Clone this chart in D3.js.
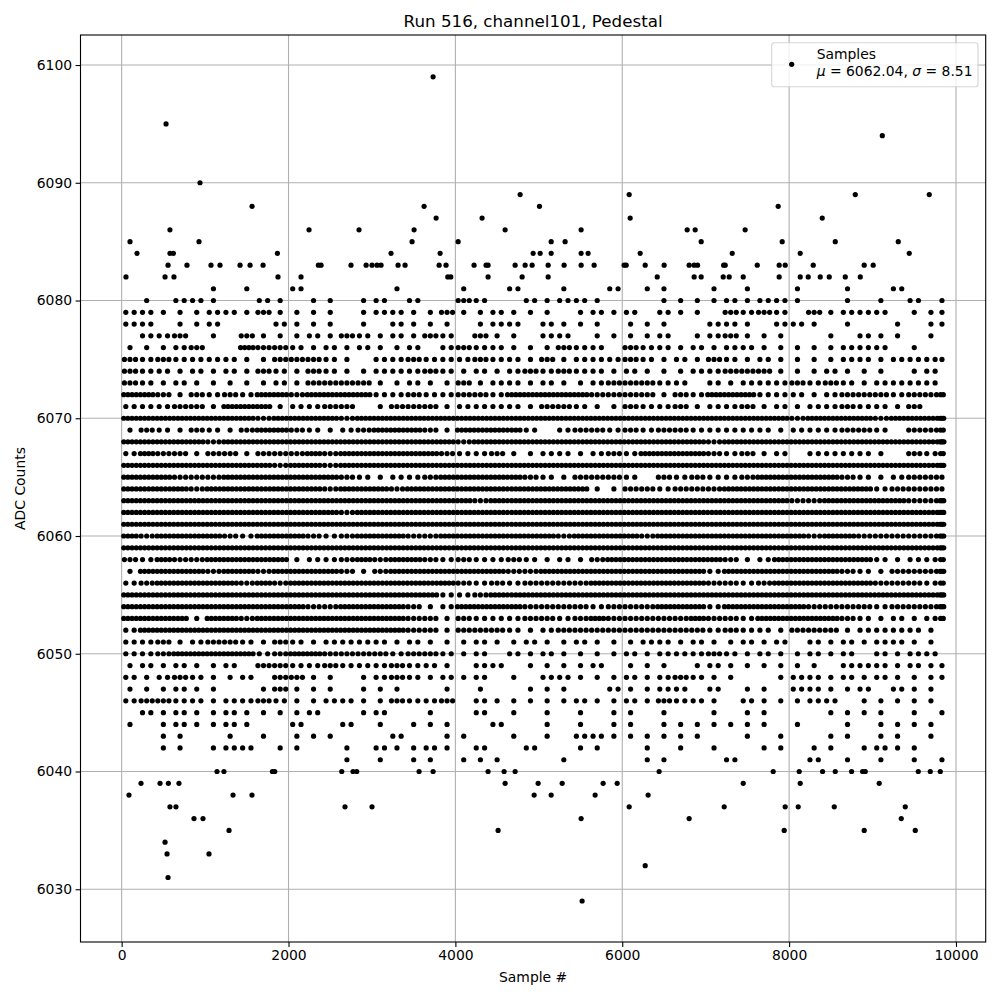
<!DOCTYPE html>
<html>
<head>
<meta charset="utf-8">
<script src="https://cdn.jsdelivr.net/npm/d3@7"></script>
<style>
  html, body { margin: 0; padding: 0; background: #fff; }
  svg { display: block; font-family: "DejaVu Sans", sans-serif; }
</style>
</head>
<body>
<svg id="chart" width="1000" height="1000"></svg>
<script>
// ---------------- DATA ----------------
const title = "Run 516, channel101, Pedestal";
const xLabel = "Sample #";
const yLabel = "ADC Counts";
const xTicks = [0, 2000, 4000, 6000, 8000, 10000];
const yTicks = [6030, 6040, 6050, 6060, 6070, 6080, 6090, 6100];
const sampleCount = 9864;          // samples 0 .. 9863
const binWidth = 200;              // samples per occupancy bin (50 bins)
const legendLabel = "Samples";
const muValue = "6062.04";
const sigmaValue = "8.51";

// Occupancy of each ADC level: one digit per 200-sample bin = number of dots seen in that bin
const binnedLevels = [6081, 6080, 6079, 6078, 6077, 6076, 6075, 6074, 6073, 6072, 6071, 6070, 6069, 6068,
  6067, 6066, 6065, 6064, 6063, 6062, 6061, 6060, 6059, 6058, 6057, 6056, 6055, 6054, 6053, 6052,
  6051, 6050, 6049, 6048, 6047, 6046, 6045, 6044, 6043, 6042, 6041];
const binnedOccupancy = [
  "00000101002000001000100200100201100101001001002000",
  "01022100210110120200320021221000111121221001010201",
  "22111221311110122113112111012120211032320312220111",
  "22011200021110102111012202111011100221022101001011",
  "02230103111213212132031102201111201231110010211010",
  "11123004332121211202322111322032212122111112220100",
  "32322221133321022322232213122232121321211112212221",
  "32212121321321122232121232322121112233311121110120",
  "32121111121333311211312212112333220212223232122220",
  "44313232443444422322332444443333132444222123332332",
  "22233144412233013331222213321132231223121223221300",
  "44444444344443444444444444444444444444443444434443",
  "13213213443212344431444420233232332222212223320332",
  "44444344444444444444344444444444444344444444444444",
  "24331331333434444443223112212324444323120222210322",
  "44444444434434444444444444444444444444444444444443",
  "44433344444443212234444432133320323223444443212331",
  "44443444444434443444444444441133233344444444423331",
  "44444444444444444444434444444444444444443344444333",
  "44444444444443444444444444444444444444444444444443",
  "44444444444444444444444444444444444444444444444443",
  "43444432444323444334444444344443444444444344333333",
  "44444444444444444444444444444444444444444444444443",
  "32433444441223434432322321213444444431244444421222",
  "14444344344443134444444334444444444244444443213333",
  "23444443434444444444323233334444444332344444433322",
  "44444444444444444442234444444444444444444444444443",
  "44444444444334444312444433332333444244444333323333",
  "44441443444444444331322233234333334332444443212122",
  "24444444444444444331333212333333333232213331222210",
  "22312332132122221211121121121112212112120212122110",
  "22344444234433332332120212111121222321211212021220",
  "12121120332232223221022011112011101211111102221211",
  "21232112033110123212120102211121232110012212121111",
  "11121100131110111001010011100211220201102211202110",
  "23322122321122113223021111121121322102111220111110",
  "02121121111200120010020101010110100101100011110101",
  "10121121002002010111002001010110111111101001011110",
  "00110010101110002001100101022111111001010011011010",
  "00110122011001021121020020011001010100110110121100",
  "00000000000001010110111000100001100020000201010101"
];

// Isolated samples outside the dense band: [ADC level, sample numbers]
const sparseLevels = [6099, 6095, 6094, 6090, 6089, 6088, 6087, 6086, 6085, 6084, 6083, 6082,
  6040, 6039, 6038, 6037, 6036, 6035, 6034, 6033, 6032, 6031, 6029];
const sparseSamples = [
  [3733],
  [532],
  [9117],
  [939],
  [4776, 6083, 8793, 9680],
  [1563, 3625, 5008, 7869],
  [3769, 4320, 6095, 8397],
  [579, 2246, 2845, 3505, 4596, 5507, 6778, 6874, 7473],
  [100, 927, 3481, 4033, 5148, 5315, 6946, 7917, 8553, 9308],
  [184, 579, 620, 1867, 3229, 3817, 4932, 5016, 5148, 5507, 5591, 6215, 7318, 8133, 9440],
  [556, 783, 1071, 1179, 1419, 1539, 1695, 2358, 2390, 2749, 2930, 3001, 3061, 3109, 3313, 3397,
   3805, 3888, 4224, 4368, 4392, 4716, 4836, 4920, 5112, 5303, 5507, 5663, 6023, 6047, 6275, 6502,
   6802, 6862, 6903, 7215, 7234, 7618, 7881, 7953, 8289, 8900, 9008],
  [52, 520, 627, 1874, 2150, 3909, 3945, 4392, 4800, 5112, 6419, 6862, 6946, 7210, 7282, 7450,
   7881, 8133, 8229, 8373, 8481, 8673, 8853],
  [1143, 1226, 1807, 1835, 2638, 2773, 2818, 3565, 3733, 4392, 4584, 4716, 6442, 7809, 8121, 8401,
   8553, 8749, 8881, 8913, 9548, 9692, 9812],
  [232, 460, 560, 687, 4596, 4992, 5280, 5771, 5939, 7450, 8133, 9080],
  [88, 1335, 1562, 4944, 5148, 5675, 6310],
  [579, 651, 2677, 3001, 6083, 7222, 7953, 8109, 8541, 9392],
  [867, 975, 5507, 6802, 9344],
  [1287, 4512, 7941, 8900, 9512],
  [520],
  [544, 1047],
  [6275],
  [556],
  [5519]
];

// ---------------- BUILD POINTS ----------------
const points = [];
binnedLevels.forEach((lvl, li) => {
  const s = binnedOccupancy[li];
  for (let k = 0; k < s.length; k++) {
    const c = +s[k];
    if (!c) continue;
    const lo = k * binWidth, hi = Math.min(lo + binWidth, sampleCount);
    for (let i = 0; i < c; i++) points.push({ s: lo + (i + 0.5) * (hi - lo) / c, v: lvl });
  }
});
sparseLevels.forEach((lvl, li) => sparseSamples[li].forEach(s => points.push({ s, v: lvl })));

// ---------------- DRAW ----------------
const svg = d3.select("#chart");
const L = 80.5, R = 985.7, T = 35, B = 942;
const x = d3.scaleLinear().domain([-493.2, 10356.2]).range([L, R]);
const y = d3.scaleLinear().domain([6025.52, 6102.55]).range([B, T]);

svg.append("rect").attr("width", 1000).attr("height", 1000).attr("fill", "#fff");

// grid
const grid = svg.append("g").attr("stroke", "#b0b0b0").attr("stroke-width", 1.1);
xTicks.forEach(t => grid.append("line").attr("x1", x(t)).attr("x2", x(t)).attr("y1", T).attr("y2", B));
yTicks.forEach(t => grid.append("line").attr("y1", y(t)).attr("y2", y(t)).attr("x1", L).attr("x2", R));

// points
svg.append("defs").append("clipPath").attr("id", "clip")
  .append("rect").attr("x", L).attr("y", T).attr("width", R - L).attr("height", B - T);
svg.append("g").attr("clip-path", "url(#clip)")
  .selectAll("circle").data(points).join("circle")
  .attr("cx", d => x(d.s)).attr("cy", d => y(d.v)).attr("r", 2.6).attr("fill", "#000");

// axes
const xAxis = d3.axisBottom(x).tickValues(xTicks).tickFormat(d3.format("d")).tickSize(4.9).tickPadding(3.5);
const yAxis = d3.axisLeft(y).tickValues(yTicks).tickFormat(d3.format("d")).tickSize(4.9).tickPadding(3.5);
const gx = svg.append("g").attr("transform", `translate(0,${B})`).call(xAxis);
const gy = svg.append("g").attr("transform", `translate(${L},0)`).call(yAxis);
[gx, gy].forEach(g => {
  g.select(".domain").remove();
  g.selectAll(".tick line").attr("stroke", "#000").attr("stroke-width", 1.1);
  g.selectAll(".tick text").attr("fill", "#000").attr("font-size", "13.9px")
    .attr("font-family", "DejaVu Sans, sans-serif");
});

// frame
svg.append("rect").attr("x", L).attr("y", T).attr("width", R - L).attr("height", B - T)
  .attr("fill", "none").attr("stroke", "#000").attr("stroke-width", 1.1);

// title & labels
svg.append("text").attr("x", (L + R) / 2).attr("y", 27).attr("text-anchor", "middle")
  .attr("font-size", "16.7px").text(title);
svg.append("text").attr("x", (L + R) / 2).attr("y", 982).attr("text-anchor", "middle")
  .attr("font-size", "13.9px").text(xLabel);
svg.append("text").attr("transform", `translate(25,${(T + B) / 2}) rotate(-90)`).attr("text-anchor", "middle")
  .attr("font-size", "13.9px").text(yLabel);

// legend
const lg = svg.append("g");
lg.append("rect").attr("x", 771.7).attr("y", 42.7).attr("width", 206.3).attr("height", 44)
  .attr("rx", 2.8).attr("fill", "#fff").attr("fill-opacity", 0.8)
  .attr("stroke", "#cccccc").attr("stroke-opacity", 0.8).attr("stroke-width", 1.1);
lg.append("circle").attr("cx", 791.7).attr("cy", 64.3).attr("r", 2.6).attr("fill", "#000");
lg.append("text").attr("x", 816.7).attr("y", 59).attr("font-size", "13.9px").text(legendLabel);
const t2 = lg.append("text").attr("x", 816.7).attr("y", 75.5).attr("font-size", "13.9px");
t2.append("tspan").attr("font-style", "italic").text("μ");
t2.append("tspan").text(" = " + muValue + ", ");
t2.append("tspan").attr("font-style", "italic").text("σ");
t2.append("tspan").text(" = " + sigmaValue);
</script>
</body>
</html>
